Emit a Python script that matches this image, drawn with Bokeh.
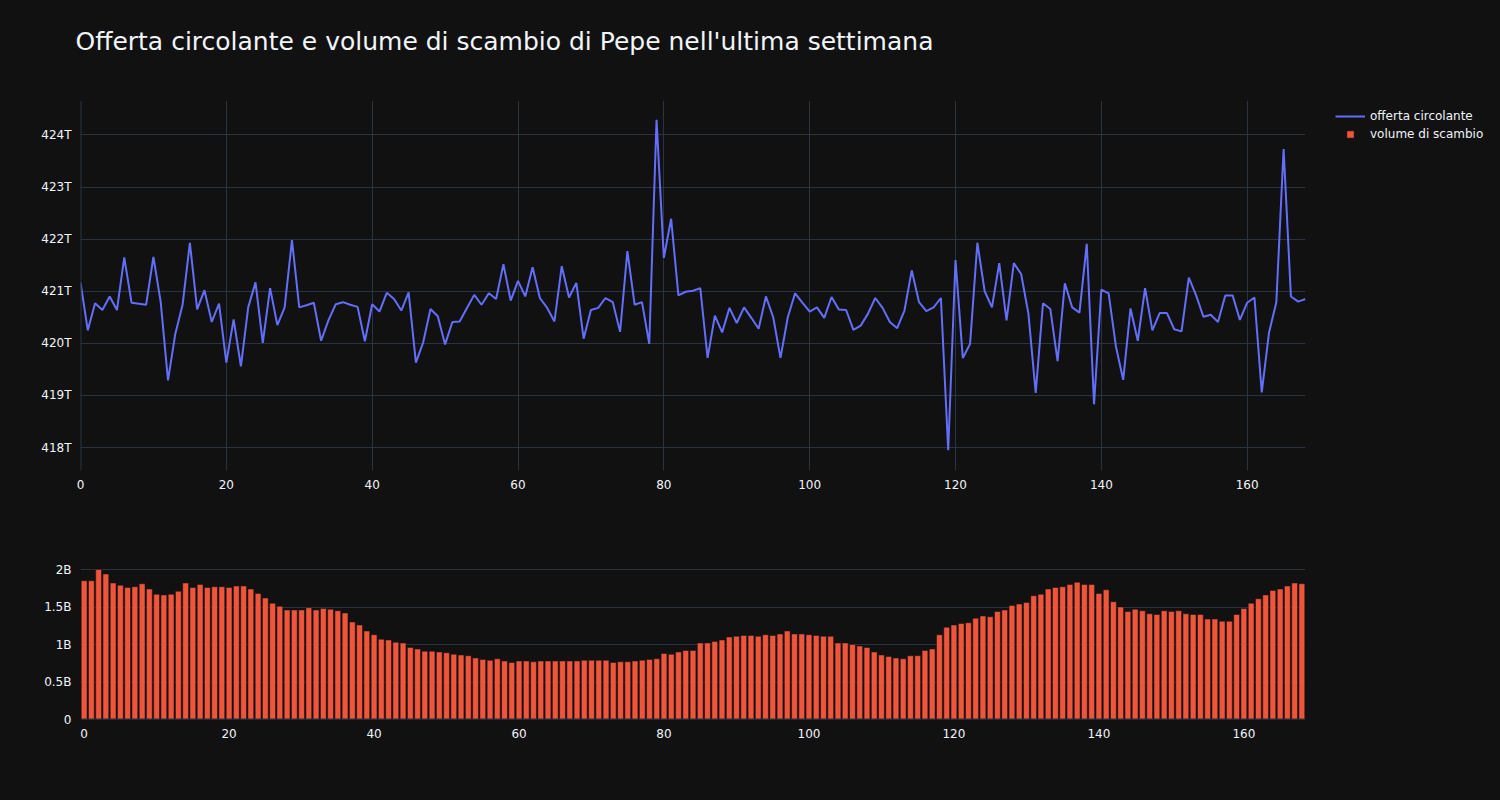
from bokeh.plotting import figure
from bokeh.layouts import column
from bokeh.models import (Range1d, FixedTicker, CustomJSTickFormatter, Span, Legend,
                          LegendItem, ColumnDataSource, Title)
from bokeh.embed import file_html
from bokeh.resources import INLINE

TITLE = "Offerta circolante e volume di scambio di Pepe nell'ultima settimana"
LINE_NAME = "offerta circolante"
BAR_NAME = "volume di scambio"

hours = list(range(169))

# circulating supply, in trillions
offerta_T = [
    421.17, 420.25, 420.77, 420.64, 420.90, 420.64, 421.65, 420.78, 420.76, 420.74,
    421.66, 420.79, 419.29, 420.18, 420.74, 421.93, 420.65, 421.02, 420.41, 420.76,
    419.63, 420.46, 419.56, 420.69, 421.17, 420.01, 421.06, 420.35, 420.69, 421.98,
    420.69, 420.73, 420.78, 420.05, 420.44, 420.75, 420.79, 420.74, 420.70, 420.04,
    420.75, 420.61, 420.97, 420.85, 420.63, 420.98, 419.63, 420.02, 420.66, 420.52,
    419.98, 420.41, 420.42, 420.68, 420.93, 420.74, 420.96, 420.85, 421.52, 420.82,
    421.20, 420.90, 421.46, 420.87, 420.68, 420.42, 421.48, 420.88, 421.16, 420.09,
    420.64, 420.68, 420.87, 420.79, 420.22, 421.77, 420.74, 420.79, 419.99, 424.29,
    421.64, 422.39, 420.92, 420.99, 421.01, 421.06, 419.72, 420.53, 420.21, 420.68,
    420.39, 420.69, 420.49, 420.28, 420.90, 420.50, 419.72, 420.50, 420.96, 420.78,
    420.61, 420.69, 420.49, 420.89, 420.65, 420.64, 420.26, 420.34, 420.57, 420.87,
    420.68, 420.41, 420.29, 420.63, 421.40, 420.79, 420.62, 420.69, 420.87, 417.95,
    421.60, 419.72, 419.99, 421.93, 421.00, 420.69, 421.54, 420.44, 421.54, 421.33,
    420.57, 419.05, 420.77, 420.66, 419.66, 421.15, 420.69, 420.59, 421.91, 418.83,
    421.03, 420.96, 419.94, 419.30, 420.67, 420.05, 421.06, 420.25, 420.58, 420.58,
    420.27, 420.23, 421.26, 420.92, 420.51, 420.55, 420.41, 420.92, 420.92, 420.45,
    420.78, 420.88, 419.06, 420.21, 420.79, 423.73, 420.90, 420.80, 420.85,
]

# trading volume, in billions
volume_B = [
    1.85, 1.85, 2.00, 1.94, 1.82, 1.79, 1.76, 1.77, 1.81, 1.74,
    1.67, 1.66, 1.67, 1.71, 1.82, 1.76, 1.80, 1.76, 1.77, 1.77,
    1.76, 1.78, 1.78, 1.74, 1.68, 1.62, 1.55, 1.51, 1.46, 1.46,
    1.46, 1.49, 1.46, 1.48, 1.47, 1.45, 1.42, 1.30, 1.26, 1.18,
    1.13, 1.07, 1.06, 1.03, 1.02, 0.96, 0.94, 0.91, 0.91, 0.90,
    0.89, 0.87, 0.86, 0.85, 0.82, 0.80, 0.79, 0.81, 0.78, 0.76,
    0.78, 0.78, 0.77, 0.78, 0.78, 0.78, 0.78, 0.78, 0.78, 0.79,
    0.79, 0.79, 0.79, 0.76, 0.77, 0.77, 0.78, 0.79, 0.80, 0.81,
    0.88, 0.87, 0.90, 0.92, 0.92, 1.02, 1.02, 1.04, 1.06, 1.10,
    1.11, 1.12, 1.12, 1.11, 1.13, 1.12, 1.14, 1.18, 1.14, 1.14,
    1.13, 1.12, 1.11, 1.11, 1.02, 1.02, 1.00, 0.98, 0.96, 0.90,
    0.86, 0.84, 0.82, 0.81, 0.85, 0.85, 0.92, 0.94, 1.13, 1.23,
    1.26, 1.28, 1.29, 1.35, 1.38, 1.37, 1.44, 1.46, 1.52, 1.54,
    1.56, 1.65, 1.67, 1.74, 1.76, 1.77, 1.80, 1.83, 1.80, 1.80,
    1.68, 1.73, 1.57, 1.50, 1.44, 1.47, 1.45, 1.41, 1.40, 1.45,
    1.44, 1.45, 1.41, 1.40, 1.40, 1.34, 1.34, 1.31, 1.31, 1.40,
    1.48, 1.55, 1.61, 1.66, 1.72, 1.74, 1.78, 1.82, 1.81,
]

x_ticks = [0, 20, 40, 60, 80, 100, 120, 140, 160]
supply_ticks_T = [418, 419, 420, 421, 422, 423, 424]
volume_ticks_B = [0, 0.5, 1, 1.5, 2]

BG = "#111111"
GRID = "#283442"
TXT = "#f2f5fa"
FONT = "DejaVu Sans"

offerta = [v * 1e12 for v in offerta_T]
volume = [v * 1e9 for v in volume_B]


def style(p):
    p.background_fill_color = BG
    p.border_fill_color = BG
    p.outline_line_color = None
    for ax in (p.xaxis[0], p.yaxis[0]):
        ax.axis_line_color = None
        ax.major_tick_line_color = None
        ax.minor_tick_line_color = None
        ax.major_label_text_color = TXT
        ax.major_label_text_font = FONT
        ax.major_label_text_font_size = "12px"
        ax.major_label_standoff = 3
    p.xgrid.grid_line_color = GRID
    p.ygrid.grid_line_color = GRID
    p.xgrid.grid_line_width = 1
    p.ygrid.grid_line_width = 1


# ---- top: circulating supply ----
p1 = figure(frame_width=1225, frame_height=370,
            min_border_left=80, min_border_right=187, min_border_top=100, min_border_bottom=40,
            x_range=Range1d(0, 168), y_range=Range1d(417.56e12, 424.66e12),
            output_backend="svg", toolbar_location=None, title=None)
style(p1)
# invisible spacer between frame and title, then the title itself (outermost)
p1.add_layout(Title(text=" ", text_font=FONT, text_font_size="25px",
                    text_color=BG, standoff=14), "above")
p1.add_layout(Title(text=TITLE, text_font=FONT, text_font_size="25px",
                    text_font_style="normal", text_color=TXT, align="left",
                    offset=-5, standoff=0), "above")
p1.xaxis.ticker = FixedTicker(ticks=x_ticks)
p1.yaxis.ticker = FixedTicker(ticks=[t * 1e12 for t in supply_ticks_T])
p1.yaxis.formatter = CustomJSTickFormatter(code="return (tick/1e12).toFixed(0) + 'T';")
p1.add_layout(Span(location=0, dimension="height", line_color=GRID, line_width=2))

src1 = ColumnDataSource(dict(x=hours, y=offerta))
r_line = p1.line("x", "y", source=src1, line_color="#636efa", line_width=2)
# legend-only proxy for the bar series (a single point with no position)
r_proxy = p1.scatter(x=[float("nan")], y=[float("nan")], marker="square", size=12,
                     fill_color="#ef553b", line_color=BG, line_width=0.5)

legend = Legend(items=[LegendItem(label=LINE_NAME, renderers=[r_line]),
                       LegendItem(label=BAR_NAME, renderers=[r_proxy])],
                location=(30, 327), orientation="vertical",
                background_fill_alpha=0, border_line_color=None,
                label_text_color=TXT, label_text_font=FONT, label_text_font_size="12px",
                glyph_width=30, glyph_height=18, label_height=18, label_standoff=5,
                spacing=0, padding=0, margin=0)
p1.add_layout(legend, "right")

# ---- bottom: trading volume ----
p2 = figure(frame_width=1225, frame_height=159,
            min_border_left=80, min_border_right=187, min_border_top=50, min_border_bottom=40,
            x_range=Range1d(-0.5, 168.5), y_range=Range1d(0, 2.12e9),
            output_backend="svg", toolbar_location=None)
style(p2)
p2.xgrid.grid_line_color = None
p2.xaxis.ticker = FixedTicker(ticks=x_ticks)
p2.yaxis.ticker = FixedTicker(ticks=[t * 1e9 for t in volume_ticks_B])
p2.yaxis.formatter = CustomJSTickFormatter(
    code="if (tick == 0) { return '0'; } return (tick/1e9) + 'B';")
src2 = ColumnDataSource(dict(x=hours, top=volume))
p2.vbar(x="x", top="top", width=0.8, source=src2,
        fill_color="#ef553b", line_color=BG, line_width=0.5)
p2.add_layout(Span(location=0, dimension="width", line_color=GRID, line_width=2))

layout = column(p1, p2, spacing=0)
html = file_html(layout, INLINE, title="Pepe")
html = html.replace("<head>", "<head><style>html,body{background-color:#111111;}</style>", 1)
open("out.html", "w").write(html)
